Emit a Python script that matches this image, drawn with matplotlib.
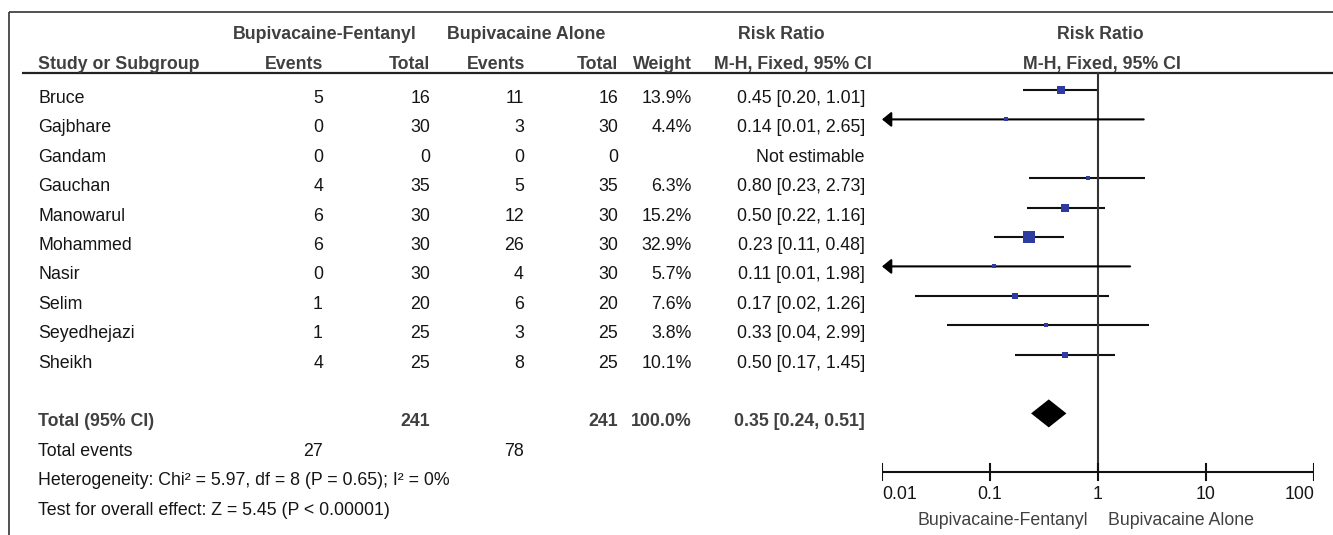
import numpy as np
import matplotlib.pyplot as plt

plt.rcParams['font.family'] = ['Liberation Sans', 'DejaVu Sans']

# study data
studies = ['Bruce', 'Gajbhare', 'Gandam', 'Gauchan', 'Manowarul',
           'Mohammed', 'Nasir', 'Selim', 'Seyedhejazi', 'Sheikh']
ev_bf = [5, 0, 0, 4, 6, 6, 0, 1, 1, 4]
tot_bf = [16, 30, 0, 35, 30, 30, 30, 20, 25, 25]
ev_ba = [11, 3, 0, 5, 12, 26, 4, 6, 3, 8]
tot_ba = [16, 30, 0, 35, 30, 30, 30, 20, 25, 25]
weight = [13.9, 4.4, np.nan, 6.3, 15.2, 32.9, 5.7, 7.6, 3.8, 10.1]
rr = [0.45, 0.14, np.nan, 0.80, 0.50, 0.23, 0.11, 0.17, 0.33, 0.50]
rr_lo = [0.20, 0.0077, np.nan, 0.23, 0.22, 0.11, 0.0063, 0.02, 0.04, 0.17]
rr_hi = [1.01, 2.65, np.nan, 2.73, 1.16, 0.48, 1.98, 1.26, 2.99, 1.45]
ci_text = ['0.45 [0.20, 1.01]', '0.14 [0.01, 2.65]', 'Not estimable',
           '0.80 [0.23, 2.73]', '0.50 [0.22, 1.16]', '0.23 [0.11, 0.48]',
           '0.11 [0.01, 1.98]', '0.17 [0.02, 1.26]', '0.33 [0.04, 2.99]',
           '0.50 [0.17, 1.45]']

total_bf, total_ba = 241, 241
events_bf, events_ba = 27, 78
pooled = 0.35
pooled_lo, pooled_hi = 0.24, 0.51
pooled_text = '0.35 [0.24, 0.51]'
het_text = 'Heterogeneity: Chi² = 5.97, df = 8 (P = 0.65); I² = 0%'
z_text = 'Test for overall effect: Z = 5.45 (P < 0.00001)'
ticks = [0.01, 0.1, 1, 10, 100]
tick_labels = ['0.01', '0.1', '1', '10', '100']

W, H = 1333, 535
fig = plt.figure(figsize=(W / 100, H / 100), dpi=100)
ax = fig.add_axes([0, 0, 1, 1])
ax.set_xlim(0, W)
ax.set_ylim(H, 0)
ax.axis('off')

x0, x1 = 882, 1314
fx = fig.add_axes([x0 / W, 0, (x1 - x0) / W, 1])
fx.set_xscale('log')
fx.set_xlim(0.01, 100)
fx.set_ylim(H, 0)
fx.axis('off')

fs = 12.8
body = '#151515'
head = '#404040'
cap = 6  # half cap height in px


def row_y(i):
    return 97 + 29.4 * i


def txt(x, y, s, ha='left', bold=False, color=body):
    ax.text(x, y + cap, s, ha=ha, va='baseline', fontsize=fs,
            fontweight='bold' if bold else 'normal', color=color)


# frame lines
ax.plot([9, W], [12, 12], color='#333333', lw=1.2, solid_capstyle='butt')
ax.plot([9, 9], [12, H], color='#333333', lw=1.2, solid_capstyle='butt')
ax.plot([22, W], [73, 73], color='#222222', lw=1.6, solid_capstyle='butt')

# headers
txt(325, 33, 'Bupivacaine-Fentanyl', ha='center', bold=True, color=head)
txt(526, 33, 'Bupivacaine Alone', ha='center', bold=True, color=head)
txt(781, 33, 'Risk Ratio', ha='center', bold=True, color=head)
txt(1100, 33, 'Risk Ratio', ha='center', bold=True, color=head)
txt(38, 63, 'Study or Subgroup', bold=True, color=head)
txt(323, 63, 'Events', ha='right', bold=True, color=head)
txt(430, 63, 'Total', ha='right', bold=True, color=head)
txt(525, 63, 'Events', ha='right', bold=True, color=head)
txt(618, 63, 'Total', ha='right', bold=True, color=head)
txt(692, 63, 'Weight', ha='right', bold=True, color=head)
txt(872, 63, 'M-H, Fixed, 95% CI', ha='right', bold=True, color=head)
txt(1102, 63, 'M-H, Fixed, 95% CI', ha='center', bold=True, color=head)

# study rows
for i, name in enumerate(studies):
    y = row_y(i)
    txt(38, y, name)
    txt(323, y, str(ev_bf[i]), ha='right')
    txt(430, y, str(tot_bf[i]), ha='right')
    txt(524, y, str(ev_ba[i]), ha='right')
    txt(618, y, str(tot_ba[i]), ha='right')
    if not np.isnan(weight[i]):
        txt(692, y, f'{weight[i]:.1f}%', ha='right')
    txt(865, y, ci_text[i], ha='right')

    if np.isnan(rr[i]):
        continue
    ym = y - 7
    lo = rr_lo[i]
    if lo < 0.01:
        fx.annotate('', xy=(0.01, ym), xytext=(rr_hi[i], ym),
                    arrowprops=dict(arrowstyle='-|>,head_length=0.55,head_width=0.45',
                                    color='black', lw=1.5, shrinkA=0, shrinkB=0),
                    annotation_clip=False)
    else:
        fx.plot([lo, rr_hi[i]], [ym, ym], color='#111111', lw=1.5,
                solid_capstyle='butt')
    side = 1.92 * np.sqrt(weight[i])
    fx.plot(rr[i], ym, marker='s', ms=max(side, 4.2) * 0.72, color='#2e3ca0',
            mew=0, zorder=5)

# totals
yt = row_y(11)
txt(38, yt, 'Total (95% CI)', bold=True, color=head)
txt(430, yt, str(total_bf), ha='right', bold=True, color=head)
txt(618, yt, str(total_ba), ha='right', bold=True, color=head)
txt(692, yt, '100.0%', ha='right', bold=True, color=head)
txt(865, yt, pooled_text, ha='right', bold=True, color=head)
yd = yt - 7
fx.fill([pooled_lo, pooled, pooled_hi, pooled], [yd, yd - 14, yd, yd + 14],
        color='black', lw=0)

ye = row_y(12)
txt(38, ye, 'Total events')
txt(323, ye, str(events_bf), ha='right')
txt(524, ye, str(events_ba), ha='right')
txt(38, row_y(13), het_text)
txt(38, row_y(14), z_text)

# forest axis
y_axis = 472
fx.plot([1, 1], [73, y_axis], color='#333333', lw=1.5)
fx.plot([ticks[0], ticks[-1]], [y_axis, y_axis], color='#111111', lw=1.5,
        solid_capstyle='butt')
for k, (t, lab) in enumerate(zip(ticks, tick_labels)):
    fx.plot([t, t], [y_axis - 8, y_axis + 8], color='#111111', lw=1.5)
    ha = 'left' if k == 0 else ('right' if k == len(ticks) - 1 else 'center')
    fx.text(t, 493 + cap, lab, ha=ha, va='baseline', fontsize=fs, color=body)
fx.annotate('Bupivacaine-Fentanyl', xy=(1, 519 + cap), xytext=(-10, 0),
            textcoords='offset pixels', ha='right', va='baseline',
            fontsize=fs, color=head, annotation_clip=False)
fx.annotate('Bupivacaine Alone', xy=(1, 519 + cap), xytext=(10, 0),
            textcoords='offset pixels', ha='left', va='baseline',
            fontsize=fs, color=head, annotation_clip=False)

fig.savefig('out.png', dpi=100)
